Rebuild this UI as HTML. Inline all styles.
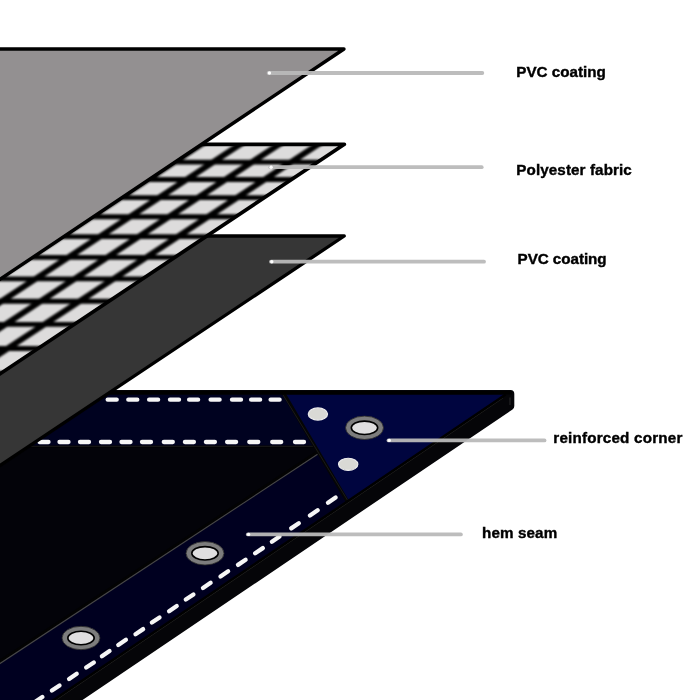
<!DOCTYPE html>
<html><head><meta charset="utf-8"><title>Tarpaulin layers</title>
<style>
html,body{margin:0;padding:0;background:#fff;}
body{width:700px;height:700px;overflow:hidden;font-family:"Liberation Sans",sans-serif;}
svg{display:block;}
</style></head><body>
<svg width="700" height="700" viewBox="0 0 700 700">
<rect width="700" height="700" fill="#fff"/>
<g>
<path d="M-10,390 L510.5,390 Q514.3,390 514.3,393.8 L514.3,406 Q514.3,408.3 512.5,409.5 L67.7,710 L-10,710 Z" fill="#050508"/>
<line x1="502.96" y1="398" x2="41.2" y2="710" stroke="#2a2a26" stroke-width="0.8"/>
<line x1="510" y1="397.5" x2="510" y2="405" stroke="#3a3a3a" stroke-width="0.7"/>
<polygon points="-10,394.5 505.64,394.5 38.7,710 -10,710" fill="#030309"/>
<polygon points="-10,394.5 284.28,394.5 314.66,446 -10,446" fill="#000220"/>
<polygon points="284.28,394.5 505.64,394.5 347.37,501.44" fill="#00053f"/>
<polygon points="318.22,452.04 347.37,501.44 38.7,710 -10,710 -10,668.27" fill="#000020"/>
<line x1="-10" y1="446.6" x2="315.01" y2="446.6" stroke="#000" stroke-width="2"/><line x1="-10" y1="446.3" x2="314.84" y2="446.3" stroke="#262626" stroke-width="0.7"/>
<line x1="318.22" y1="452.04" x2="-10" y2="668.27" stroke="#030303" stroke-width="3.8"/>
<line x1="319.12" y1="453.24" x2="-10" y2="670.07" stroke="#47474a" stroke-width="1.1"/>
<line x1="282.8" y1="392" x2="347.37" y2="501.44" stroke="#050505" stroke-width="3.6"/>
<line x1="283.1" y1="395" x2="347.67" y2="500.44" stroke="#202020" stroke-width="0.8"/>
<line x1="505.64" y1="394.5" x2="38.7" y2="710" stroke="#000" stroke-width="2.4"/>
<line x1="-10" y1="392.8" x2="512" y2="392.8" stroke="#000" stroke-width="3.4"/>
<g stroke="#f6f6f6" stroke-width="4.3" stroke-linecap="round">
<line x1="107.7" y1="399.7" x2="116.7" y2="399.7"/>
<line x1="128.3" y1="399.7" x2="137.3" y2="399.7"/>
<line x1="149.1" y1="399.7" x2="158.1" y2="399.7"/>
<line x1="170" y1="399.7" x2="179" y2="399.7"/>
<line x1="189.1" y1="399.7" x2="198.1" y2="399.7"/>
<line x1="210.6" y1="399.7" x2="219.6" y2="399.7"/>
<line x1="232" y1="399.7" x2="241" y2="399.7"/>
<line x1="251.1" y1="399.7" x2="260.1" y2="399.7"/>
<line x1="270.6" y1="399.7" x2="279.6" y2="399.7"/>
<line x1="39.5" y1="442" x2="48.5" y2="442"/>
<line x1="59.5" y1="442" x2="68.5" y2="442"/>
<line x1="80" y1="442" x2="89" y2="442"/>
<line x1="101" y1="442" x2="110" y2="442"/>
<line x1="121.5" y1="442" x2="130.5" y2="442"/>
<line x1="142" y1="442" x2="151" y2="442"/>
<line x1="163.8" y1="442" x2="172.8" y2="442"/>
<line x1="184.9" y1="442" x2="193.9" y2="442"/>
<line x1="205.9" y1="442" x2="214.9" y2="442"/>
<line x1="227.1" y1="442" x2="236.1" y2="442"/>
<line x1="249.3" y1="442" x2="258.3" y2="442"/>
<line x1="272.2" y1="442" x2="281.2" y2="442"/>
<line x1="295" y1="442" x2="304" y2="442"/>
<line x1="335.61" y1="497.52" x2="327.99" y2="502.68"/>
<line x1="317.61" y1="510.32" x2="309.99" y2="515.48"/>
<line x1="298.81" y1="523.22" x2="291.19" y2="528.38"/>
<line x1="279.51" y1="536.52" x2="271.89" y2="541.68"/>
<line x1="262.81" y1="548.12" x2="255.19" y2="553.28"/>
<line x1="245.61" y1="559.72" x2="237.99" y2="564.88"/>
<line x1="228.11" y1="571.32" x2="220.49" y2="576.48"/>
<line x1="210.61" y1="582.82" x2="202.99" y2="587.98"/>
<line x1="193.41" y1="594.42" x2="185.79" y2="599.58"/>
<line x1="176.71" y1="606.02" x2="169.09" y2="611.18"/>
<line x1="159.51" y1="617.42" x2="151.89" y2="622.58"/>
<line x1="143.11" y1="629.12" x2="135.49" y2="634.28"/>
<line x1="125.91" y1="639.82" x2="118.29" y2="644.98"/>
<line x1="109.51" y1="651.02" x2="101.89" y2="656.18"/>
<line x1="93.81" y1="662.42" x2="86.19" y2="667.58"/>
<line x1="76.71" y1="673.82" x2="69.09" y2="678.98"/>
<line x1="59.51" y1="685.42" x2="51.89" y2="690.58"/>
<line x1="42.31" y1="697.02" x2="34.69" y2="702.18"/>
<line x1="25.11" y1="708.42" x2="17.49" y2="713.58"/>
</g>
<ellipse cx="81" cy="638" rx="19" ry="11.7" fill="#7d7d7d" stroke="#2a2a2a" stroke-width="0.8"/>
<ellipse cx="81" cy="638" rx="13.2" ry="6.7" fill="#e0dfe0" stroke="#000" stroke-width="1.6"/>
<ellipse cx="205" cy="553.3" rx="19" ry="11.7" fill="#7d7d7d" stroke="#2a2a2a" stroke-width="0.8"/>
<ellipse cx="205" cy="553.3" rx="13.2" ry="6.7" fill="#e0dfe0" stroke="#000" stroke-width="1.6"/>
<ellipse cx="364.5" cy="427.8" rx="19" ry="11.7" fill="#7d7d7d" stroke="#2a2a2a" stroke-width="0.8"/>
<ellipse cx="364.5" cy="427.8" rx="13.2" ry="6.7" fill="#e0dfe0" stroke="#000" stroke-width="1.6"/>
<ellipse cx="317.9" cy="414" rx="9.7" ry="6.1" fill="#d9d9d5" stroke="#eeeeee" stroke-width="1.1"/>
<ellipse cx="348.2" cy="464.3" rx="9.7" ry="6.1" fill="#d9d9d5" stroke="#eeeeee" stroke-width="1.1"/>
<polygon points="-20,236 344.3,236 -20,478.87" fill="#363636" stroke="#000" stroke-width="3.3" stroke-linejoin="round"/>
<defs><clipPath id="mc"><polygon points="-20,144.3 344.4,144.3 -20,387.23"/></clipPath><filter id="bl" x="-5%" y="-5%" width="110%" height="110%"><feGaussianBlur stdDeviation="0.95"/></filter></defs>
<polygon points="-20,144.3 344.4,144.3 -20,387.23" fill="#dddcdc"/>
<g clip-path="url(#mc)" stroke="#000" filter="url(#bl)">
<line x1="-20" y1="162.13" x2="360" y2="162.13" stroke-width="4.8"/>
<line x1="-20" y1="179.49" x2="360" y2="179.49" stroke-width="4.8"/>
<line x1="-20" y1="197.69" x2="360" y2="197.69" stroke-width="4.8"/>
<line x1="-20" y1="216.73" x2="360" y2="216.73" stroke-width="4.8"/>
<line x1="-20" y1="236.6" x2="360" y2="236.6" stroke-width="4.8"/>
<line x1="-20" y1="257.31" x2="360" y2="257.31" stroke-width="4.8"/>
<line x1="-20" y1="278.85" x2="360" y2="278.85" stroke-width="4.8"/>
<line x1="-20" y1="301.23" x2="360" y2="301.23" stroke-width="4.8"/>
<line x1="-20" y1="324.45" x2="360" y2="324.45" stroke-width="4.8"/>
<line x1="-20" y1="348.5" x2="360" y2="348.5" stroke-width="4.8"/>
<line x1="-20" y1="373.39" x2="360" y2="373.39" stroke-width="4.8"/>
<line x1="-20" y1="399.11" x2="360" y2="399.11" stroke-width="4.8"/>
<line x1="324.7" y1="140" x2="-70.5" y2="400" stroke-width="5.8"/>
<line x1="285.7" y1="140" x2="-109.5" y2="400" stroke-width="5.8"/>
<line x1="246.7" y1="140" x2="-148.5" y2="400" stroke-width="5.8"/>
<line x1="207.7" y1="140" x2="-187.5" y2="400" stroke-width="5.8"/>
<line x1="168.7" y1="140" x2="-226.5" y2="400" stroke-width="5.8"/>
<line x1="129.7" y1="140" x2="-265.5" y2="400" stroke-width="5.8"/>
<line x1="90.7" y1="140" x2="-304.5" y2="400" stroke-width="5.8"/>
<line x1="51.7" y1="140" x2="-343.5" y2="400" stroke-width="5.8"/>
</g>
<polygon points="-20,144.3 344.4,144.3 -20,387.23" fill="none" stroke="#000" stroke-width="3.7" stroke-linejoin="round"/>
<polygon points="-20,49 344,49 -20,292.67" fill="#939091" stroke="#000" stroke-width="3.4" stroke-linejoin="round"/>
<defs><filter id="lb" x="-2%" y="-100%" width="104%" height="300%"><feGaussianBlur stdDeviation="0.6"/></filter></defs>
<g filter="url(#lb)"><line x1="268.6" y1="73" x2="482.3" y2="73" stroke="#b9b9b9" stroke-width="3.8" stroke-linecap="round" stroke-opacity="0.95"/>
<circle cx="269.4" cy="73" r="1.7" fill="#fff"/></g>
<g filter="url(#lb)"><line x1="270.3" y1="167.2" x2="481.7" y2="167.2" stroke="#b9b9b9" stroke-width="3.8" stroke-linecap="round" stroke-opacity="0.95"/>
<circle cx="271.1" cy="167.2" r="1.7" fill="#fff"/></g>
<g filter="url(#lb)"><line x1="271" y1="261.7" x2="484" y2="261.7" stroke="#b9b9b9" stroke-width="3.8" stroke-linecap="round" stroke-opacity="0.95"/>
<circle cx="271.8" cy="261.7" r="1.7" fill="#fff"/></g>
<g filter="url(#lb)"><line x1="388.5" y1="440.4" x2="544.5" y2="440.4" stroke="#b9b9b9" stroke-width="3.8" stroke-linecap="round" stroke-opacity="0.95"/>
<circle cx="389.3" cy="440.4" r="1.7" fill="#fff"/></g>
<g filter="url(#lb)"><line x1="247.8" y1="534.4" x2="460.9" y2="534.4" stroke="#b9b9b9" stroke-width="3.8" stroke-linecap="round" stroke-opacity="0.95"/>
<circle cx="248.6" cy="534.4" r="1.7" fill="#fff"/></g>
</g>
<defs><filter id="tb" x="-5%" y="-30%" width="110%" height="160%"><feGaussianBlur stdDeviation="0.3"/></filter></defs>
<g font-family="'Liberation Sans', sans-serif" font-weight="bold" fill="#000" stroke="#000" stroke-width="0.4" filter="url(#tb)">
<text x="516.3" y="77.2" font-size="15.2" textLength="89.5" lengthAdjust="spacing">PVC coating</text>
<text x="516.3" y="174.8" font-size="15.2" textLength="115.5" lengthAdjust="spacing">Polyester fabric</text>
<text x="517.6" y="263.8" font-size="15.2" textLength="89" lengthAdjust="spacing">PVC coating</text>
<text x="553.3" y="442.8" font-size="15.2" textLength="129" lengthAdjust="spacing">reinforced corner</text>
<text x="482" y="538" font-size="15.2" textLength="75.2" lengthAdjust="spacing">hem seam</text>
</g>
</svg>
</body></html>
